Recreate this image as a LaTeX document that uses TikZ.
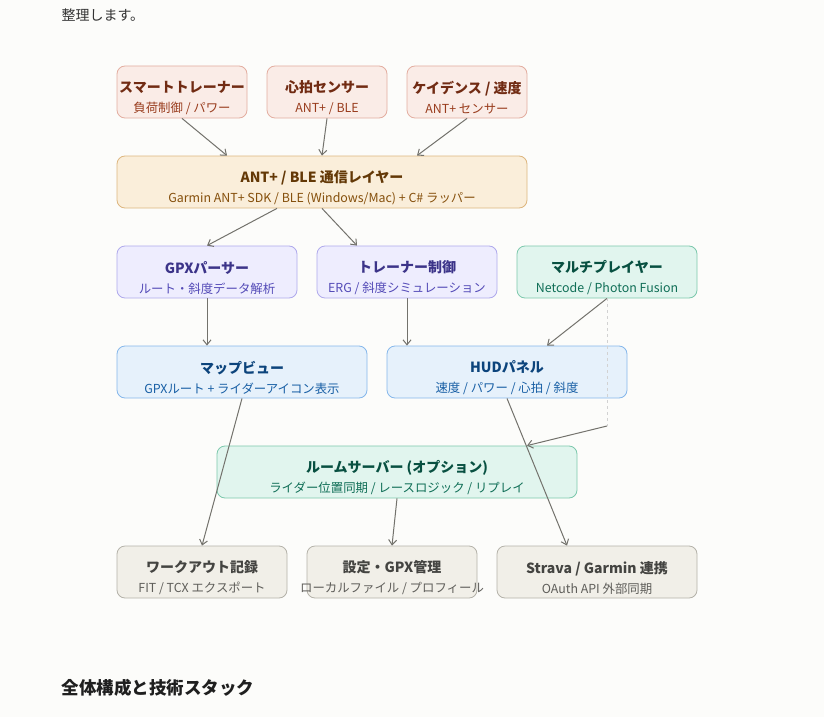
\documentclass[tikz,border=0pt]{standalone}
\usepackage{fontspec}
\setmainfont{Noto Sans CJK JP}
\usetikzlibrary{arrows.meta,positioning}
\definecolor{pagebg}{HTML}{FCFCFA}
\definecolor{coralbg}{HTML}{FAECE7}
\definecolor{coralln}{HTML}{E3ADA0}
\definecolor{coraltx}{HTML}{712B13}
\definecolor{coralsb}{HTML}{993C1D}
\definecolor{amberbg}{HTML}{FAEEDA}
\definecolor{amberln}{HTML}{DDB67E}
\definecolor{ambertx}{HTML}{633806}
\definecolor{ambersb}{HTML}{854F0B}
\definecolor{purplebg}{HTML}{EEEDFE}
\definecolor{purpleln}{HTML}{AFA9EC}
\definecolor{purpletx}{HTML}{3C3489}
\definecolor{purplesb}{HTML}{534AB7}
\definecolor{tealbg}{HTML}{E1F5EE}
\definecolor{tealln}{HTML}{7CC8AC}
\definecolor{tealtx}{HTML}{085041}
\definecolor{tealsb}{HTML}{0F6E56}
\definecolor{bluebg}{HTML}{E6F1FB}
\definecolor{blueln}{HTML}{85B7EB}
\definecolor{bluetx}{HTML}{0C447C}
\definecolor{bluesb}{HTML}{185FA5}
\definecolor{graybg}{HTML}{F1EFE8}
\definecolor{grayln}{HTML}{B4B2A9}
\definecolor{graytx}{HTML}{444441}
\definecolor{graysb}{HTML}{5F5E5A}
\definecolor{arrowgray}{HTML}{73726C}
\newcommand{\ttl}[1]{{\fontsize{14}{20}\selectfont\bfseries\rule{0pt}{24pt}#1}}
\newcommand{\sbt}[2]{{\fontsize{12.4}{20}\selectfont\color{#1sb}#2}}

\begin{document}
\begin{tikzpicture}[x=1pt,y=-1pt,
  box/.style={draw,rounded corners=8pt,line width=0.8pt,minimum height=52pt,inner sep=0pt,fill=#1bg,draw=#1ln,text=#1tx,align=center,font=\fontsize{12}{20}\selectfont},
  link/.style={-{Straight Barb[length=5pt,width=8pt]},line width=1pt,draw=arrowgray},
  lane/.style={dashed,line width=1pt,draw=gray!35}
]
\fill[pagebg] (0,0) rectangle (824,717);
\useasboundingbox (0,0) rectangle (824,717);
\node[anchor=west,font=\fontsize{14}{18}\selectfont,text=black!80] (intro) at (58,15) {整理します。};
% sensors
\node[box=coral,minimum width=130pt] (trainer) at (182,92) {\ttl{スマートトレーナー}\\\sbt{coral}{負荷制御 / パワー}};
\node[box=coral,minimum width=120pt] (hr) at (327,92) {\ttl{心拍センサー}\\\sbt{coral}{ANT+ / BLE}};
\node[box=coral,minimum width=120pt] (cad) at (467,92) {\ttl{ケイデンス / 速度}\\\sbt{coral}{ANT+ センサー}};
% comms layer
\node[box=amber,minimum width=410pt] (ant) at (322,182) {\ttl{ANT+ / BLE 通信レイヤー}\\\sbt{amber}{Garmin ANT+ SDK / BLE (Windows/Mac) + C\# ラッパー}};
% logic
\node[box=purple,minimum width=180pt] (gpx) at (207,272) {\ttl{GPXパーサー}\\\sbt{purple}{ルート・斜度データ解析}};
\node[box=purple,minimum width=180pt] (ctrl) at (407,272) {\ttl{トレーナー制御}\\\sbt{purple}{ERG / 斜度シミュレーション}};
\node[box=teal,minimum width=180pt] (multi) at (607,272) {\ttl{マルチプレイヤー}\\\sbt{teal}{Netcode / Photon Fusion}};
% views
\node[box=blue,minimum width=250pt] (map) at (242,372) {\ttl{マップビュー}\\\sbt{blue}{GPXルート + ライダーアイコン表示}};
\node[box=blue,minimum width=240pt] (hud) at (507,372) {\ttl{HUDパネル}\\\sbt{blue}{速度 / パワー / 心拍 / 斜度}};
\node[box=teal,minimum width=360pt] (room) at (397,472) {\ttl{ルームサーバー (オプション)}\\\sbt{teal}{ライダー位置同期 / レースロジック / リプレイ}};
% outputs
\node[box=gray,minimum width=170pt] (log) at (202,572) {\ttl{ワークアウト記録}\\\sbt{gray}{FIT / TCX エクスポート}};
\node[box=gray,minimum width=170pt] (conf) at (392,572) {\ttl{設定・GPX管理}\\\sbt{gray}{\makebox[150pt]{ローカルファイル / プロフィール}}};
\node[box=gray,minimum width=200pt] (strava) at (597,572) {\ttl{Strava / Garmin 連携}\\\sbt{gray}{OAuth API 外部同期}};
\node[anchor=west,font=\fontsize{17.5}{20}\selectfont\bfseries,text=black!88] (head) at (58,688) {全体構成と技術スタック};
\coordinate (bend) at (607,426);
\draw[link] ([xshift=0pt]trainer.south) -- ([xshift=-95pt]ant.north);
\draw[link] (hr.south) -- (ant.north);
\draw[link] (cad.south) -- ([xshift=95pt]ant.north);
\draw[link] ([xshift=-45pt]ant.south) -- (gpx.north);
\draw[link] (ant.south) -- ([xshift=-50pt]ctrl.north);
\draw[link] (gpx.south) -- ([xshift=-35pt]map.north);
\draw[link] (ctrl.south) -- ([xshift=-100pt]hud.north);
\draw[link] (multi.south) -- ([xshift=40pt]hud.north);
\draw[lane] (multi.south) -- (bend);
\draw[link] (bend) -- ([xshift=130pt]room.north);
\draw[link] (map.south) -- (log.north);
\draw[link] (room.south) -- (conf.north);
\draw[link] (hud.south) -- ([xshift=-30pt]strava.north);
\end{tikzpicture}
\end{document}
